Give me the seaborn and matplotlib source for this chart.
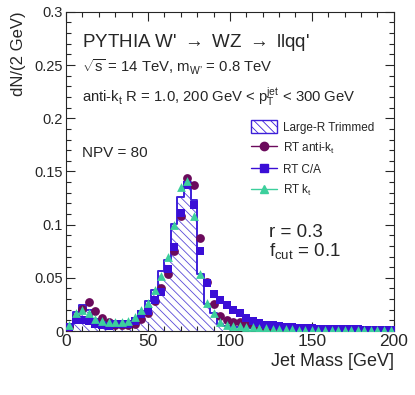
import numpy as np
import pandas as pd
import matplotlib
matplotlib.use("Agg")
import matplotlib.pyplot as plt
import matplotlib.ticker as mticker
from matplotlib.lines import Line2D
from matplotlib.patches import Patch
import seaborn as sns

# jet mass bins, 4 GeV wide
edges = np.arange(0, 201, 4)
centers = edges[:-1] + 2

trimmed = [0.004, 0.018, 0.024, 0.020, 0.011, 0.009, 0.008, 0.008, 0.008, 0.009,
           0.012, 0.019, 0.028, 0.039, 0.056, 0.067, 0.101, 0.126, 0.140, 0.123,
           0.054, 0.025, 0.017, 0.007, 0.005, 0.004, 0.004, 0.003, 0.003, 0.003,
           0.002, 0.002, 0.002, 0.0015, 0.0015, 0.0012, 0.0012, 0.001, 0.001, 0.001,
           0.0008, 0.0008, 0.0007, 0.0007, 0.0006, 0.0006, 0.0005, 0.0005, 0.0005, 0.0004]

rt_antikt = [0.004, 0.013, 0.021, 0.027, 0.0185, 0.012, 0.008, 0.006, 0.006, 0.006,
             0.007, 0.011, 0.017, 0.028, 0.040, 0.054, 0.075, 0.108, 0.144, 0.137,
             0.087, 0.046, 0.025, 0.014, 0.010, 0.008, 0.008, 0.007, 0.0056, 0.004,
             0.003, 0.0025, 0.002, 0.0018, 0.0016, 0.0015, 0.0013, 0.0012, 0.0011, 0.001,
             0.0009, 0.0009, 0.0008, 0.0008, 0.0007, 0.0007, 0.0006, 0.0006, 0.0005, 0.0005]

rt_ca = [0.004, 0.010, 0.010, 0.009, 0.007, 0.0056, 0.005, 0.0066, 0.007, 0.007,
         0.0094, 0.016, 0.019, 0.029, 0.037, 0.058, 0.079, 0.111, 0.137, 0.118,
         0.075, 0.045, 0.035, 0.029, 0.024, 0.020, 0.0166, 0.012, 0.0097, 0.0078,
         0.006, 0.0053, 0.0047, 0.004, 0.0035, 0.003, 0.0028, 0.0025, 0.0023, 0.0021,
         0.002, 0.0019, 0.0017, 0.0016, 0.0015, 0.0014, 0.0013, 0.0012, 0.0011, 0.001]

rt_kt = [0.006, 0.017, 0.020, 0.017, 0.011, 0.0094, 0.0085, 0.0085, 0.0085, 0.0094,
         0.013, 0.020, 0.026, 0.0386, 0.052, 0.070, 0.100, 0.135, 0.141, 0.108,
         0.054, 0.026, 0.017, 0.008, 0.006, 0.005, 0.005, 0.004, 0.004, 0.003,
         0.003, 0.002, 0.002, 0.0015, 0.0015, 0.0013, 0.0012, 0.0011, 0.001, 0.001,
         0.0009, 0.0008, 0.0008, 0.0007, 0.0007, 0.0006, 0.0006, 0.0005, 0.0005, 0.0005]

c_hist = "#3d1fd9"
c_hatch = "#5a4ad8"
c_akt = "#6b0a5c"
c_ca = "#3a0ed6"
c_kt = "#3ccf9c"

sns.set_style("ticks")
plt.rcParams["font.family"] = ["Liberation Sans", "DejaVu Sans"]
plt.rcParams["mathtext.fontset"] = "custom"
plt.rcParams["mathtext.rm"] = "Liberation Sans"
plt.rcParams["mathtext.it"] = "Liberation Sans"
plt.rcParams["hatch.linewidth"] = 0.6

fig = plt.figure(figsize=(4.15, 3.95), dpi=100)
ax = fig.add_axes([0.159, 0.162, 0.79, 0.808])

df = pd.DataFrame({"m": centers.astype(float), "w": trimmed})
# hatched fill, then the step outline on top
sns.histplot(data=df, x="m", weights="w", binwidth=4, binrange=(0, 200), element="step", fill=True,
             color=c_hatch, linewidth=0, ax=ax)
for coll in ax.collections:
    coll.set_facecolor("none")
    coll.set_edgecolor(c_hatch)
    coll.set_linewidth(0)
    coll.set_hatch("\\\\\\\\")
sns.histplot(data=df, x="m", weights="w", binwidth=4, binrange=(0, 200), element="step", fill=False,
             color=c_hist, linewidth=1.4, ax=ax)

sns.scatterplot(x=centers, y=rt_antikt, marker="o", s=40, color=c_akt, linewidth=0, ax=ax, zorder=3)
sns.scatterplot(x=centers, y=rt_ca, marker="s", s=34, color=c_ca, linewidth=0, ax=ax, zorder=4)
sns.scatterplot(x=centers, y=rt_kt, marker="^", s=40, color=c_kt, linewidth=0, ax=ax, zorder=5)

ax.set_xlim(0, 200)
ax.set_ylim(0, 0.3)
ax.xaxis.set_major_locator(mticker.MultipleLocator(50))
ax.xaxis.set_minor_locator(mticker.MultipleLocator(10))
ax.yaxis.set_major_locator(mticker.MultipleLocator(0.05))
ax.yaxis.set_minor_locator(mticker.MultipleLocator(0.01))
ax.yaxis.set_major_formatter(mticker.FuncFormatter(lambda v, p: "%g" % round(v, 3)))
ax.tick_params(which="both", direction="in", top=True, right=True, width=0.8)
ax.tick_params(which="major", length=6.5)
ax.tick_params(which="minor", length=3.3)
ax.tick_params(axis="x", labelsize=12.5, pad=2)
ax.tick_params(axis="y", labelsize=10.5, pad=2)
for s in ax.spines.values():
    s.set_linewidth(0.8)

ax.set_xlabel("Jet Mass [GeV]", loc="right", fontsize=13, labelpad=3)
ax.set_ylabel("dN/(2 GeV)", loc="top", fontsize=12, labelpad=6)

ax.text(0.05, 0.905, r"PYTHIA W' $\rightarrow$ WZ $\rightarrow$ llqq'", transform=ax.transAxes,
        fontsize=13.5, va="center")
ax.text(0.05, 0.825, "$\\sqrt{s}$ = 14 TeV, m$_{\\mathregular{W\u2019}}$ = 0.8 TeV", transform=ax.transAxes,
        fontsize=10.7, va="center")
ax.text(0.05, 0.732, r"anti-k$_{\mathregular{t}}$ R = 1.0, 200 GeV < p$_{\mathregular{T}}^{\mathregular{jet}}$ < 300 GeV",
        transform=ax.transAxes, fontsize=10.7, va="center")
ax.text(0.05, 0.558, "NPV = 80", transform=ax.transAxes, fontsize=11, va="center")
ax.text(0.62, 0.31, "r = 0.3", transform=ax.transAxes, fontsize=13.5, va="center")
ax.text(0.62, 0.25, r"f$_{\mathregular{cut}}$ = 0.1", transform=ax.transAxes, fontsize=13.5, va="center")

handles = [
    Patch(facecolor="white", edgecolor=c_hist, hatch="\\\\\\\\", linewidth=1.0),
    Line2D([], [], color=c_akt, marker="o", markersize=6, lw=1),
    Line2D([], [], color=c_ca, marker="s", markersize=5.5, lw=1),
    Line2D([], [], color=c_kt, marker="^", markersize=6, lw=1),
]
labels = ["Large-R Trimmed", r"RT anti-k$_{\mathregular{t}}$", "RT C/A", r"RT k$_{\mathregular{t}}$"]
ax.legend(handles, labels, loc="upper left", bbox_to_anchor=(0.55, 0.675), frameon=False,
          fontsize=8.5, handlelength=2.2, handleheight=1.3, labelspacing=0.58, handletextpad=0.5,
          borderaxespad=0)

fig.savefig("out.png", dpi=100)
